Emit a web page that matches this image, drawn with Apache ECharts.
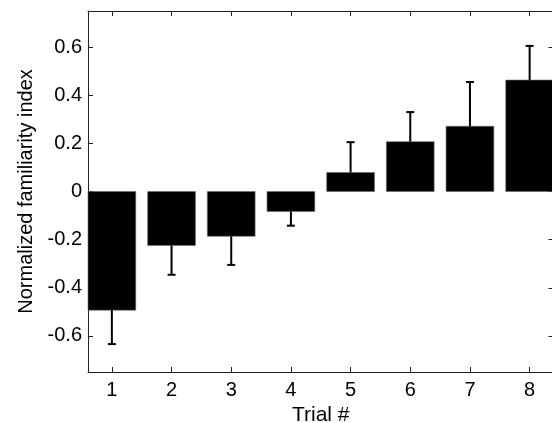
<!DOCTYPE html>
<html>
<head>
<meta charset="utf-8">
<script src="https://cdn.jsdelivr.net/npm/echarts@6/dist/echarts.min.js"></script>
<style>
html,body{margin:0;padding:0;background:#fff;}
#chart{width:552px;height:423px;}
</style>
</head>
<body>
<div id="chart"></div>
<script>
const trials = [1, 2, 3, 4, 5, 6, 7, 8];
const means = [-0.493, -0.224, -0.186, -0.083, 0.079, 0.207, 0.271, 0.463];
const errors = [0.141, 0.122, 0.119, 0.059, 0.126, 0.123, 0.184, 0.142];
const yTicks = [-0.6, -0.4, -0.2, 0, 0.2, 0.4, 0.6];
const xLabel = 'Trial #';
const yLabel = 'Normalized familiarity index';

const data = trials.map((t, i) => [t, means[i], errors[i]]);
const font = 'Liberation Sans, Arial, sans-serif';
const axisColor = '#222';

const chart = echarts.init(document.getElementById('chart'));
chart.setOption({
  animation: false,
  backgroundColor: '#fff',
  grid: { left: 88, top: 11, width: 465.5, height: 361, containLabel: false, outerBoundsMode: 'none' },
  xAxis: [{
    type: 'value', min: 0.6, max: 8.4, position: 'bottom',
    name: xLabel, nameLocation: 'middle', nameGap: 29,
    nameTextStyle: { fontFamily: font, fontSize: 21, color: '#000' },
    axisLine: { show: true, onZero: false, lineStyle: { color: axisColor, width: 1 } },
    axisTick: { show: true, inside: true, length: 5, customValues: trials, lineStyle: { color: axisColor } },
    axisLabel: { show: true, customValues: trials, margin: 8, fontFamily: font, fontSize: 20, color: '#000',
      formatter: v => String(v) },
    splitLine: { show: false }
  }, {
    type: 'value', min: 0.6, max: 8.4, position: 'top',
    axisLine: { show: true, onZero: false, lineStyle: { color: axisColor, width: 1 } },
    axisTick: { show: true, inside: true, length: 5, customValues: trials, lineStyle: { color: axisColor } },
    axisLabel: { show: false },
    splitLine: { show: false }
  }],
  yAxis: [{
    type: 'value', min: -0.75, max: 0.75, position: 'left',
    name: yLabel, nameLocation: 'middle', nameGap: 52, nameRotate: 90,
    nameTextStyle: { fontFamily: font, fontSize: 20, color: '#000' },
    axisLine: { show: true, onZero: false, lineStyle: { color: axisColor, width: 1 } },
    axisTick: { show: true, inside: true, length: 5, customValues: yTicks, lineStyle: { color: axisColor } },
    axisLabel: { show: true, customValues: yTicks, margin: 6, fontFamily: font, fontSize: 20, color: '#000',
      formatter: v => String(Math.round(v * 10) / 10) },
    splitLine: { show: false }
  }, {
    type: 'value', min: -0.75, max: 0.75, position: 'right',
    axisLine: { show: true, onZero: false, lineStyle: { color: axisColor, width: 1 } },
    axisTick: { show: true, inside: true, length: 5, customValues: yTicks, lineStyle: { color: axisColor } },
    axisLabel: { show: false },
    splitLine: { show: false }
  }],
  series: [{
    type: 'custom',
    xAxisIndex: 0, yAxisIndex: 0,
    data: data,
    renderItem: function (params, api) {
      const x = api.value(0), v = api.value(1), e = api.value(2);
      const pTL = api.coord([x - 0.4, Math.max(v, 0)]);
      const pBR = api.coord([x + 0.4, Math.min(v, 0)]);
      const tip = v + (v >= 0 ? e : -e);
      const pBase = api.coord([x, v]);
      const pTip = api.coord([x, tip]);
      return {
        type: 'group',
        children: [{
          type: 'rect',
          shape: { x: pTL[0], y: pTL[1], width: pBR[0] - pTL[0], height: pBR[1] - pTL[1] },
          style: { fill: '#000', stroke: '#666', lineWidth: 0.6 }
        }, {
          type: 'line',
          shape: { x1: pBase[0], y1: pBase[1], x2: pTip[0], y2: pTip[1] },
          style: { stroke: '#000', lineWidth: 2 }
        }, {
          type: 'line',
          shape: { x1: pTip[0] - 4, y1: pTip[1], x2: pTip[0] + 4, y2: pTip[1] },
          style: { stroke: '#000', lineWidth: 2 }
        }]
      };
    }
  }]
});
</script>
</body>
</html>
